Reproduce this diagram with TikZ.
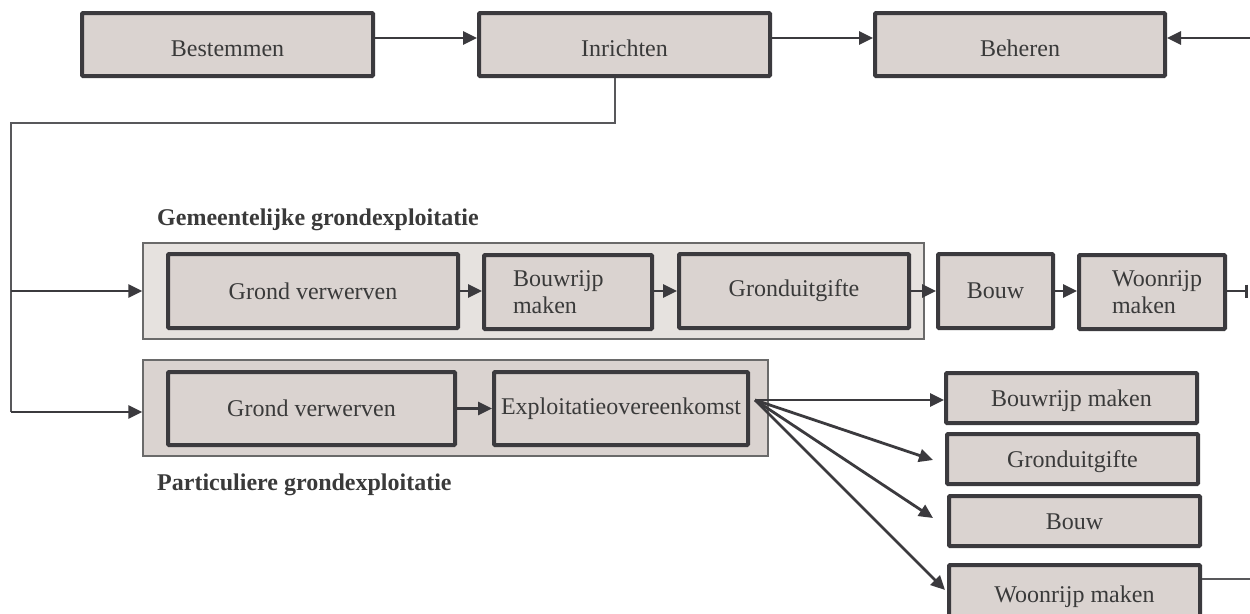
\documentclass[tikz,border=0pt]{standalone}
\usepackage{fontspec}
\setmainfont{Liberation Serif}
\usetikzlibrary{arrows.meta}
\definecolor{boxfill}{HTML}{DAD3D0}
\definecolor{boxline}{HTML}{3B3A3E}
\definecolor{txt}{HTML}{3A3A3A}
\definecolor{gemfill}{HTML}{E6E2DF}
\definecolor{outline}{HTML}{6A6A6A}
\tikzset{
  box/.style={draw=boxline, line width=4pt, fill=boxfill, rounded corners=1pt,
    text=txt, inner sep=0pt, font=\fontsize{24}{27}\selectfont},
  lowtext/.style={text height=28pt, text depth=5pt},
  groupbox/.style={draw=outline, line width=1.5pt, inner sep=0pt},
  conn/.style={draw=boxline, line width=2.8pt, -{Triangle[length=14pt,width=13pt]}},
  thin/.style={draw=boxline!85, line width=1.5pt},
  grouplabel/.style={anchor=base west, inner sep=0pt, text=txt, font=\bfseries\fontsize{24}{28}\selectfont}
}
\begin{document}
\begin{tikzpicture}[x=1pt, y=-1pt]
\useasboundingbox (0,0) rectangle (1250,613);
\clip (0,0) rectangle (1250,613);
\fill[white] (0,0) rectangle (1250,613);

% top row
\node[box, lowtext, minimum width=291pt, minimum height=63pt] (best) at (227.5,44.5) {Bestemmen};
\node[box, lowtext, minimum width=291pt, minimum height=63pt] (inr) at (624.5,44.5) {Inrichten};
\node[box, lowtext, minimum width=290pt, minimum height=63pt] (beh) at (1020,44.5) {Beheren};
\coordinate (rin) at (1250,38);
\draw[conn] ([yshift=6.5pt]best.east) -- ([yshift=6.5pt]inr.west);
\draw[conn] ([yshift=6.5pt]inr.east) -- ([yshift=6.5pt]beh.west);
\draw[conn] (rin) -- (beh.east |- rin);

% branch line
\coordinate (b1) at (615,123);
\coordinate (b2) at (11,123);
\coordinate (b3) at (11,291);
\coordinate (b4) at (11,412);
\draw[thin] (inr.south -| b1) -- (b1) -- (b2) -- (b4);

% group boxes
\node[groupbox, fill=gemfill, minimum width=781pt, minimum height=96pt] (gem) at (533.5,291) {};
\node[groupbox, fill=boxfill, minimum width=625pt, minimum height=96pt] (part) at (455.5,408) {};
\node[grouplabel] (gemlab) at (157,225) {Gemeentelijke grondexploitatie};
\node[grouplabel] (partlab) at (157,490) {Particuliere grondexploitatie};

\draw[conn] (b3) -- (gem.west |- b3);
\draw[conn] (b4) -- (part.west |- b4);

% gemeentelijke row
\node[box, minimum width=290pt, minimum height=74pt] (g1) at (313,291) {Grond verwerven};
\node[box, minimum width=168pt, minimum height=74pt, text width=110pt, align=left] (g2) at (568,292) {Bouwrijp\\maken};
\node[box, minimum width=230pt, minimum height=74pt] (g3) at (794,291) {Gronduitgifte};
\node[box, minimum width=115pt, minimum height=74pt] (g4) at (995.5,291) {Bouw};
\node[box, minimum width=146pt, minimum height=74pt, text width=80pt, align=left] (g5) at (1152,292) {Woonrijp\\maken};
\coordinate (gend) at (1248,291);
\draw[conn] (g1) -- (g2.west |- g1);
\draw[conn] (g2.east |- g1) -- (g3);
\draw[conn] (g3) -- (g4);
\draw[conn] (g4) -- (g5.west |- g4);
\draw[draw=boxline, line width=2.8pt, -{Bar[width=13pt, line width=2.8pt]}] (g5.east |- g4) -- (gend);

% particuliere row
\node[box, minimum width=287pt, minimum height=73pt] (p1) at (311.5,408.5) {Grond verwerven};
\node[box, minimum width=254pt, minimum height=73pt] (p2) at (621,408.5) {Exploitatieovereenkomst};
\draw[conn] (p1) -- (p2);

% right boxes
\node[box, lowtext, text height=22pt, minimum width=251pt, minimum height=50pt] (r1) at (1071.5,398) {Bouwrijp maken};
\node[box, lowtext, text height=22pt, minimum width=251pt, minimum height=50pt] (r2) at (1072.5,459) {Gronduitgifte};
\node[box, lowtext, text height=22pt, minimum width=251pt, minimum height=50pt] (r3) at (1074.5,521) {Bouw};
\node[box, minimum width=251pt, minimum height=64pt] (r4) at (1074.5,597) {Woonrijp maken};

\coordinate (fan) at (755,400);
\coordinate (e2) at (933,460);
\coordinate (e3) at (933,518);
\coordinate (e4) at (945,590);
\coordinate (rout) at (1250,579);
\draw[conn] (fan) -- (r1.west |- fan);
\draw[conn] (fan) -- (e2);
\draw[conn] (fan) -- (e3);
\draw[conn] (fan) -- (e4);
\draw[thin] (r4.east |- rout) -- (rout);
\end{tikzpicture}
\end{document}
